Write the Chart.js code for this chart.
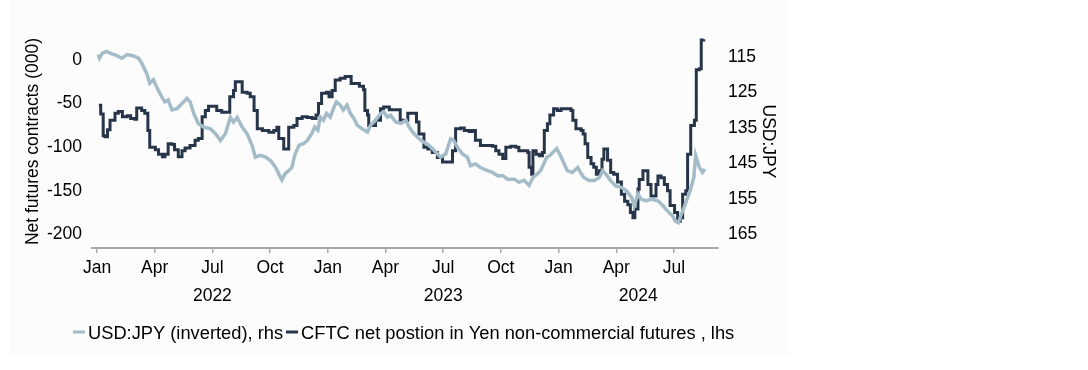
<!DOCTYPE html>
<html>
<head>
<meta charset="utf-8">
<script src="https://cdn.jsdelivr.net/npm/chart.js@4.4.1/dist/chart.umd.min.js"></script>
<style>
  html, body { margin: 0; padding: 0; background: #fff; }
  #wrap { position: relative; width: 1088px; height: 370px; }
  #panel { position: absolute; left: 10px; top: 0; width: 779px; height: 356px; background: #fcfcfc; }
  #chart { position: absolute; left: 0; top: 0; }
</style>
</head>
<body>
<div id="wrap">
  <div id="panel"></div>
  <canvas id="chart" width="1088" height="370"></canvas>
</div>
<script>
// --- data ---
const MONTH_NAMES = ['Jan', 'Feb', 'Mar', 'Apr', 'May', 'Jun', 'Jul', 'Aug', 'Sep', 'Oct', 'Nov', 'Dec'];
const X_TICKS = [0, 3, 6, 9, 12, 15, 18, 21, 24, 27, 30]; // months since Jan 2022
const YEARS = [2022, 2023, 2024];
const LHS_TICKS = [-200, -150, -100, -50, 0];
const RHS_TICKS = [115, 125, 135, 145, 155, 165];

const SERIES_NAMES = ['USD:JPY (inverted), rhs', 'CFTC net postion in Yen non-commercial futures , lhs'];

// USD:JPY spot (plotted on inverted right axis)
const jpyDates = [
  '2022-01-03','2022-01-05','2022-01-09','2022-01-16','2022-01-24','2022-02-02','2022-02-09','2022-02-17','2022-02-25',
  '2022-03-06','2022-03-11','2022-03-19','2022-03-24','2022-03-30','2022-04-05','2022-04-12','2022-04-17','2022-04-22',
  '2022-04-28','2022-05-06','2022-05-14','2022-05-22','2022-05-27','2022-06-02','2022-06-09','2022-06-17','2022-06-28',
  '2022-07-06','2022-07-14','2022-07-22','2022-07-30','2022-08-04','2022-08-10','2022-08-18','2022-08-26','2022-09-03',
  '2022-09-08','2022-09-16','2022-09-24','2022-10-02','2022-10-10','2022-10-15','2022-10-20','2022-10-25','2022-10-31',
  '2022-11-05','2022-11-10','2022-11-16','2022-11-23','2022-11-29','2022-12-06','2022-12-11','2022-12-16','2022-12-20',
  '2022-12-25','2022-12-30','2023-01-05','2023-01-10','2023-01-15','2023-01-21','2023-01-26','2023-02-01','2023-02-06',
  '2023-02-11','2023-02-16','2023-02-23','2023-03-03','2023-03-08','2023-03-16','2023-03-24','2023-03-29','2023-04-04',
  '2023-04-09','2023-04-17','2023-04-25','2023-05-03','2023-05-08','2023-05-16','2023-05-24','2023-06-01','2023-06-09',
  '2023-06-17','2023-06-27','2023-07-05','2023-07-13','2023-07-18','2023-07-24','2023-08-01','2023-08-09','2023-08-14',
  '2023-08-22','2023-08-30','2023-09-10','2023-09-18','2023-09-26','2023-10-04','2023-10-12','2023-10-23','2023-10-30',
  '2023-11-07','2023-11-15','2023-11-21','2023-11-28','2023-12-03','2023-12-08','2023-12-13','2023-12-18','2023-12-23',
  '2023-12-29','2024-01-04','2024-01-09','2024-01-15','2024-01-23','2024-02-01','2024-02-05','2024-02-10','2024-02-18',
  '2024-02-26','2024-03-05','2024-03-10','2024-03-15','2024-03-23','2024-03-31','2024-04-09','2024-04-17','2024-04-25',
  '2024-04-29','2024-05-05','2024-05-10','2024-05-18','2024-05-26','2024-06-06','2024-06-14','2024-06-21','2024-06-29',
  '2024-07-03','2024-07-08','2024-07-14','2024-07-19','2024-07-27','2024-08-02','2024-08-05','2024-08-11','2024-08-16',
  '2024-08-20'
];
const jpyRate = [
  114.4,115.4,114.1,113.5,114.1,114.7,115.4,114.4,114.7,
  115.4,116.8,119.6,122.5,121.5,123.9,126.3,127.7,127.2,
  130.0,129.6,128.2,126.7,127.7,131.0,133.8,134.8,135.3,
  136.7,138.6,136.7,132.0,133.4,132.1,134.8,136.7,140.0,
  143.3,142.8,143.3,144.3,146.2,148.0,149.7,148.0,147.1,
  146.2,142.4,140.0,139.5,138.6,136.7,134.8,135.7,132.0,
  132.9,131.0,132.0,129.6,127.7,128.6,130.0,128.6,131.0,
  132.4,134.3,135.3,136.2,134.3,132.9,131.0,130.5,132.0,
  131.5,133.4,133.8,132.9,134.8,136.7,138.1,139.1,140.0,
  141.4,143.3,142.4,138.1,138.6,140.5,142.4,143.3,145.7,
  145.2,146.2,147.1,147.6,148.5,148.5,149.5,149.5,150.4,
  149.8,151.2,149.0,148.0,147.1,145.2,143.3,142.8,141.9,
  140.9,142.8,144.7,147.1,147.6,146.2,147.6,149.0,149.9,
  149.9,149.0,147.1,148.0,149.9,151.4,151.8,152.8,154.7,
  157.0,153.7,155.1,155.6,155.1,155.6,157.0,158.5,159.9,
  161.3,161.8,158.9,156.6,152.8,149.0,142.8,146.2,147.6,
  146.6
];

// CFTC net non-commercial yen futures position, thousands of contracts
const cftcDates = [
  '2022-01-04','2022-01-07','2022-01-11','2022-01-14','2022-01-18','2022-01-22','2022-01-30','2022-02-04','2022-02-10',
  '2022-02-17','2022-02-22','2022-02-28','2022-03-03','2022-03-11','2022-03-16','2022-03-21','2022-03-24','2022-04-02',
  '2022-04-07','2022-04-13','2022-04-17','2022-04-22','2022-04-28','2022-05-02','2022-05-08','2022-05-14','2022-05-19',
  '2022-05-27','2022-06-04','2022-06-09','2022-06-15','2022-06-20','2022-06-25','2022-07-08','2022-07-16','2022-07-29',
  '2022-08-04','2022-08-07','2022-08-18','2022-08-26','2022-08-31','2022-09-06','2022-09-11','2022-09-19','2022-09-29',
  '2022-10-07','2022-10-12','2022-10-15','2022-10-23','2022-10-31','2022-11-08','2022-11-13','2022-11-21','2022-11-29',
  '2022-12-07','2022-12-13','2022-12-17','2022-12-22','2022-12-30','2023-01-03','2023-01-08','2023-01-13','2023-01-21',
  '2023-01-29','2023-02-07','2023-02-19','2023-02-25','2023-02-27','2023-03-03','2023-03-05','2023-03-16','2023-03-24',
  '2023-03-29','2023-04-07','2023-04-24','2023-05-06','2023-05-20','2023-05-24','2023-06-01','2023-06-07','2023-06-14',
  '2023-06-22','2023-06-30','2023-07-16','2023-07-21','2023-07-29','2023-08-04','2023-08-12','2023-08-17','2023-08-22',
  '2023-08-30','2023-09-18','2023-09-23','2023-09-28','2023-10-04','2023-10-09','2023-10-17','2023-10-25','2023-10-30',
  '2023-11-13','2023-11-15','2023-11-19','2023-11-21','2023-11-26','2023-12-01','2023-12-06','2023-12-09','2023-12-14',
  '2023-12-18','2023-12-24','2023-12-30','2024-01-05','2024-01-21','2024-01-24','2024-01-29','2024-02-06','2024-02-09',
  '2024-02-12','2024-02-16','2024-02-21','2024-02-25','2024-02-29','2024-03-05','2024-03-09','2024-03-12','2024-03-18',
  '2024-03-23','2024-03-28','2024-04-03','2024-04-09','2024-04-14','2024-04-19','2024-04-23','2024-04-27','2024-04-30',
  '2024-05-05','2024-05-07','2024-05-13','2024-05-21','2024-05-26','2024-06-03','2024-06-06','2024-06-11','2024-06-16',
  '2024-06-21','2024-06-25','2024-07-02','2024-07-07','2024-07-11','2024-07-15','2024-07-20','2024-07-23','2024-07-28',
  '2024-08-03','2024-08-06','2024-08-11','2024-08-14','2024-08-18'
];
const cftcNet = [
  -52,-62,-87,-88,-80,-69,-61,-59,-65,
  -64,-67,-68,-55,-58,-61,-81,-100,-103,
  -108,-111,-108,-96,-97,-103,-111,-104,-101,
  -98,-92,-90,-65,-58,-53,-58,-60,-42,
  -35,-25,-37,-38,-42,-58,-79,-81,-83,
  -81,-77,-90,-102,-77,-75,-67,-65,-66,
  -67,-63,-50,-38,-37,-42,-35,-23,-21,
  -19,-27,-30,-34,-58,-63,-75,-69,-56,
  -54,-57,-69,-61,-71,-85,-100,-102,-106,
  -112,-117,-104,-79,-78,-81,-82,-81,-92,
  -98,-99,-104,-108,-113,-100,-99,-100,-104,
  -106,-123,-131,-104,-108,-110,-106,-81,-73,
  -63,-56,-58,-56,-58,-69,-79,-81,-85,
  -96,-112,-119,-123,-131,-127,-114,-102,-115,
  -129,-131,-140,-154,-162,-166,-175,-181,-171,
  -148,-137,-127,-143,-156,-143,-133,-135,-143,
  -150,-167,-175,-185,-181,-154,-150,-108,-75,
  -69,-11,-10,23,24
];

const COLOR_JPY = '#a3bcc8';
const COLOR_CFTC = '#27354a';
const AXIS_GREY = '#a9a9a9';
const FONT_FAMILY = "'Liberation Sans', Arial, sans-serif";
const FONT_SIZE = 17.5;

// months since 1 Jan 2022, fractional
function monthPos(d) {
  const [y, m, day] = d.split('-').map(Number);
  const dim = new Date(Date.UTC(y, m, 0)).getUTCDate();
  return (y - 2022) * 12 + (m - 1) + (day - 1) / dim;
}

const jpyPoints = jpyDates.map((d, i) => ({ x: monthPos(d), y: jpyRate[i] }));
const cftcPoints = cftcDates.map((d, i) => ({ x: monthPos(d), y: cftcNet[i] }));

Chart.defaults.font.family = FONT_FAMILY;
Chart.defaults.font.size = FONT_SIZE;
Chart.defaults.color = '#000';

// year labels under the month ticks + the bottom legend
const extrasPlugin = {
  id: 'extras',
  afterDraw(chart) {
    const ctx = chart.ctx;
    const xs = chart.scales.x;
    ctx.save();
    ctx.fillStyle = '#000';
    ctx.font = FONT_SIZE + 'px ' + FONT_FAMILY;
    ctx.textAlign = 'center';
    ctx.textBaseline = 'alphabetic';
    YEARS.forEach(yr => {
      const start = Math.max((yr - 2022) * 12, xs.min);
      const end = Math.min((yr - 2021) * 12, xs.max);
      ctx.fillText(String(yr), xs.getPixelForValue((start + end) / 2), 301);
    });

    // legend
    ctx.font = '18.3px ' + FONT_FAMILY;
    ctx.textAlign = 'left';
    let x = 73;
    const yLine = 332;
    chart.data.datasets.forEach(ds => {
      ctx.strokeStyle = ds.borderColor;
      ctx.lineWidth = 3;
      ctx.beginPath();
      ctx.moveTo(x, yLine);
      ctx.lineTo(x + 12, yLine);
      ctx.stroke();
      ctx.fillText(ds.label, x + 15, 338.5);
      x += 15 + ctx.measureText(ds.label).width + 3;
    });
    ctx.restore();
  }
};

new Chart(document.getElementById('chart'), {
  type: 'line',
  data: {
    datasets: [
      {
        label: SERIES_NAMES[0],
        data: jpyPoints,
        yAxisID: 'yR',
        borderColor: COLOR_JPY,
        borderWidth: 3.5,
        pointRadius: 0,
        tension: 0
      },
      {
        label: SERIES_NAMES[1],
        data: cftcPoints,
        yAxisID: 'yL',
        borderColor: COLOR_CFTC,
        borderWidth: 3,
        pointRadius: 0,
        stepped: true
      }
    ]
  },
  options: {
    responsive: false,
    animation: false,
    layout: { padding: { left: 20, right: 310, top: 35, bottom: 86 } },
    plugins: { legend: { display: false }, tooltip: { enabled: false } },
    scales: {
      x: {
        type: 'linear',
        min: -0.26,
        max: 32.29,
        afterBuildTicks: axis => { axis.ticks = X_TICKS.map(v => ({ value: v })); },
        ticks: {
          autoSkip: false,
          maxRotation: 0,
          padding: 5,
          callback: v => MONTH_NAMES[((v % 12) + 12) % 12]
        },
        grid: { drawOnChartArea: false, drawTicks: true, tickLength: 5, color: AXIS_GREY, lineWidth: 1.5 },
        border: { color: AXIS_GREY, width: 2 }
      },
      yL: {
        position: 'left',
        min: -215.8,
        max: 28.8,
        afterBuildTicks: axis => { axis.ticks = LHS_TICKS.map(v => ({ value: v })); },
        afterFit: axis => { axis.width = 72; },
        ticks: { padding: 10 },
        grid: { display: false, drawTicks: false },
        border: { display: false },
        title: { display: true, text: 'Net futures contracts (000)', padding: 3 }
      },
      yR: {
        position: 'right',
        reverse: true,
        min: 108.86,
        max: 168.9,
        afterBuildTicks: axis => { axis.ticks = RHS_TICKS.map(v => ({ value: v })); },
        afterFit: axis => { axis.width = 60; },
        ticks: { padding: 10 },
        grid: { display: false, drawTicks: false },
        border: { display: false },
        title: { display: true, text: 'USD:JPY', padding: 0 }
      }
    }
  },
  plugins: [extrasPlugin]
});
</script>
</body>
</html>
